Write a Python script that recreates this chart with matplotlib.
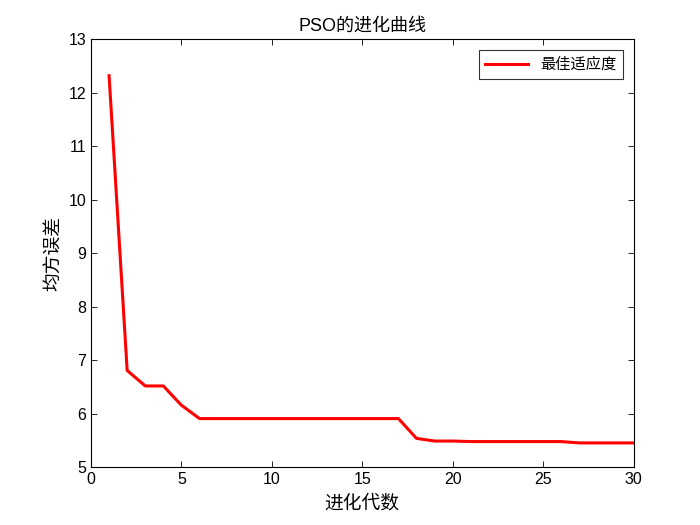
import matplotlib
matplotlib.use('Agg')
from matplotlib import pyplot as plt

plt.rcParams['font.family'] = ['Liberation Sans', 'Noto Sans CJK SC', 'DejaVu Sans']

# best fitness per generation
gens = list(range(1, 31))
fitness = [12.32, 6.81, 6.52, 6.52, 6.16, 5.91, 5.91, 5.91, 5.91, 5.91,
           5.91, 5.91, 5.91, 5.91, 5.91, 5.91, 5.91, 5.54, 5.49, 5.49,
           5.48, 5.48, 5.48, 5.48, 5.48, 5.48, 5.455, 5.455, 5.455, 5.455]

fig = plt.figure(figsize=(7, 5.25), dpi=100)
ax = fig.add_axes([0.13, 0.11, 0.775, 0.815])
ax.plot(gens, fitness, color='red', linewidth=2.2, label='最佳适应度')
ax.set_xlim(0, 30)
ax.set_ylim(5, 13)
ax.set_xticks(range(0, 31, 5))
ax.set_yticks(range(5, 14))
ax.tick_params(direction='in', top=True, right=True, labelsize=11.5, length=4, width=0.6)
for s in ax.spines.values():
    s.set_linewidth(0.8)
ax.set_title('PSO的进化曲线', fontsize=13)
ax.set_xlabel('进化代数', fontsize=13.5, family=['Noto Sans CJK SC'])
ax.set_ylabel('均方误差', fontsize=13.5, family=['Noto Sans CJK SC'])
leg = ax.legend(loc='upper right', fancybox=False, edgecolor='black',
                prop={'family': ['Noto Sans CJK SC'], 'size': 11}, handlelength=2.8,
                borderaxespad=0.7)
leg.get_frame().set_linewidth(0.8)

plt.savefig('out.png')
